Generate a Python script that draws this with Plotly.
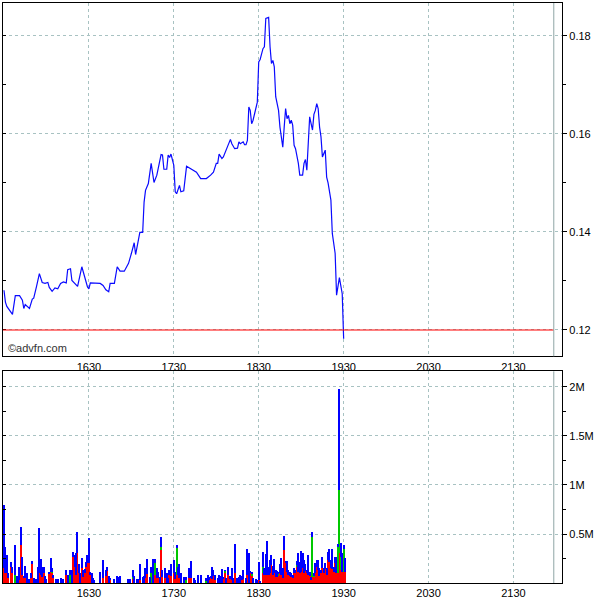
import plotly.graph_objects as go
import pandas as pd

# ---- price (minutes after 15:30, price) ----
price_minute = [0, 1, 2, 4, 6, 8, 11, 13, 14, 15, 18, 20, 21, 23, 25, 27, 29, 31, 32, 34,
                36, 38, 40, 42, 44, 45, 47, 48, 50, 52, 55, 57, 59, 60, 61, 68, 70, 72, 74, 75,
                78, 80, 82, 85, 87, 88, 90, 92, 93, 95, 96, 98, 99, 100, 102, 104, 106, 108, 110, 111,
                112, 113, 115, 116, 117, 118, 120, 121, 122, 124, 125, 127, 129, 131, 136, 139, 143, 146, 148, 150,
                151, 152, 154, 155, 158, 160, 161, 163, 165, 166, 167, 169, 170, 171, 172, 173, 174, 175, 176, 177,
                179, 180, 181, 183, 184, 185, 187, 188, 189, 190, 191, 192, 194, 195, 197, 198, 199, 200, 201, 202,
                203, 204, 205, 206, 208, 209, 211, 212, 213, 214, 216, 217, 218, 219, 220, 221, 222, 223, 224, 225,
                227, 228, 229, 231, 232, 234, 235, 237, 239, 240]
price = [0.1281, 0.1257, 0.1248, 0.1240, 0.1232, 0.1270, 0.1270, 0.1261, 0.1244, 0.1252, 0.1244, 0.1263, 0.1265, 0.1289, 0.1315, 0.1297, 0.1295, 0.1297, 0.1287, 0.1279,
         0.1286, 0.1284, 0.1295, 0.1298, 0.1296, 0.1323, 0.1325, 0.1301, 0.1296, 0.1289, 0.1329, 0.1308, 0.1288, 0.1284, 0.1296, 0.1295, 0.1291, 0.1282, 0.1278, 0.1295,
         0.1295, 0.1329, 0.1320, 0.1320, 0.1332, 0.1336, 0.1356, 0.1378, 0.1354, 0.1383, 0.1399, 0.1399, 0.1461, 0.1485, 0.1499, 0.1540, 0.1501, 0.1516, 0.1540, 0.1558,
         0.1557, 0.1528, 0.1528, 0.1557, 0.1552, 0.1559, 0.1536, 0.1482, 0.1478, 0.1495, 0.1482, 0.1484, 0.1534, 0.1531, 0.1522, 0.1509, 0.1509, 0.1516, 0.1522, 0.1540,
         0.1540, 0.1559, 0.1550, 0.1553, 0.1573, 0.1589, 0.1580, 0.1570, 0.1571, 0.1584, 0.1580, 0.1584, 0.1578, 0.1578, 0.1587, 0.1655, 0.1648, 0.1621, 0.1628, 0.1642,
         0.1665, 0.1747, 0.1752, 0.1774, 0.1778, 0.1836, 0.1838, 0.1778, 0.1744, 0.1750, 0.1737, 0.1676, 0.1648, 0.1614, 0.1573, 0.1614, 0.1652, 0.1631, 0.1638, 0.1621,
         0.1628, 0.1618, 0.1577, 0.1570, 0.1540, 0.1516, 0.1516, 0.1540, 0.1548, 0.1526, 0.1635, 0.1621, 0.1608, 0.1640, 0.1648, 0.1662, 0.1652, 0.1614, 0.1594, 0.1553,
         0.1567, 0.1512, 0.1500, 0.1465, 0.1397, 0.1356, 0.1271, 0.1307, 0.1274, 0.1182]

prev_close = 0.12

# ---- volume (minutes after 15:30; thousands of shares per colour) ----
vol_minute = [0, 1, 2, 3, 5, 6, 8, 9, 10, 11,
              12, 13, 14, 15, 16, 17, 18, 19, 20, 21,
              23, 24, 25, 26, 27, 28, 29, 30, 32, 33,
              34, 35, 37, 38, 40, 41, 42, 44, 45, 47,
              48, 49, 50, 51, 52, 53, 54, 55, 56, 57,
              58, 59, 60, 61, 62, 63, 64, 68, 70, 72,
              73, 74, 75, 78, 80, 81, 82, 88, 89, 91,
              92, 94, 95, 96, 98, 99, 100, 101, 103, 104,
              105, 106, 107, 108, 109, 110, 111, 112, 114, 115,
              116, 117, 118, 120, 121, 122, 123, 124, 125, 127,
              128, 129, 131, 132, 134, 135, 137, 139, 143, 144,
              145, 146, 147, 148, 149, 151, 152, 153, 154, 155,
              156, 157, 158, 160, 161, 162, 163, 165, 166, 167,
              168, 169, 171, 172, 173, 174, 175, 176, 178, 179,
              180, 181, 183, 184, 185, 186, 187, 188, 189, 190,
              191, 192, 193, 194, 195, 196, 197, 198, 199, 200,
              201, 202, 203, 204, 205, 206, 207, 208, 209, 210,
              211, 212, 213, 214, 215, 216, 217, 218, 219, 220,
              221, 222, 223, 224, 225, 226, 227, 228, 229, 230,
              231, 232, 233, 234, 235, 236, 237, 238, 239, 240, 241]
vol_red = [146, 95, 102, 44, 163, 95, 0, 0, 0, 27,
           384, 78, 44, 44, 0, 0, 0, 44, 190, 0,
           0, 0, 95, 78, 61, 95, 0, 0, 95, 112,
           102, 44, 0, 0, 0, 0, 0, 78, 0, 0,
           0, 265, 163, 78, 299, 95, 0, 146, 61, 95,
           163, 197, 204, 78, 0, 0, 0, 0, 44, 68,
           122, 0, 37, 0, 0, 0, 0, 0, 0, 44,
           0, 0, 0, 27, 0, 0, 44, 85, 0, 0,
           0, 95, 78, 44, 44, 0, 340, 61, 44, 0,
           0, 78, 68, 95, 37, 78, 78, 44, 0, 0,
           34, 0, 44, 44, 0, 0, 0, 0, 0, 0,
           27, 44, 34, 68, 27, 0, 0, 0, 0, 44,
           95, 0, 78, 34, 27, 0, 95, 0, 0, 0,
           27, 34, 0, 78, 0, 95, 78, 0, 0, 0,
           27, 0, 95, 78, 78, 78, 78, 95, 180, 78,
           95, 61, 61, 78, 95, 78, 44, 333, 197, 112,
           78, 68, 61, 44, 95, 95, 163, 105, 95, 112,
           146, 95, 122, 95, 78, 68, 27, 54, 61, 95,
           163, 129, 68, 95, 146, 95, 136, 78, 231, 214,
           146, 136, 112, 197, 95, 95, 299, 129, 112, 112, 112]
vol_green = [0, 0, 0, 0, 0, 0, 78, 0, 0, 0,
             0, 0, 0, 0, 0, 0, 0, 0, 0, 0,
             0, 0, 0, 0, 0, 0, 0, 0, 0, 0,
             10, 0, 0, 0, 0, 0, 0, 0, 0, 78,
             0, 0, 0, 0, 0, 0, 0, 0, 0, 0,
             0, 0, 0, 0, 0, 0, 0, 0, 0, 0,
             0, 0, 0, 0, 0, 0, 0, 0, 0, 17,
             0, 0, 0, 0, 0, 0, 0, 0, 0, 95,
             0, 102, 119, 0, 0, 0, 20, 0, 0, 0,
             0, 0, 0, 0, 0, 272, 0, 0, 0, 0,
             0, 27, 0, 0, 0, 0, 0, 0, 27, 0,
             0, 0, 0, 0, 0, 0, 0, 0, 0, 0,
             27, 0, 0, 0, 0, 0, 0, 0, 0, 0,
             0, 0, 0, 0, 0, 0, 10, 0, 0, 0,
             0, 0, 68, 0, 0, 0, 0, 0, 0, 0,
             0, 0, 0, 17, 0, 0, 0, 0, 0, 0,
             0, 0, 0, 0, 0, 0, 17, 0, 0, 0,
             0, 0, 0, 0, 0, 0, 0, 415, 17, 0,
             0, 0, 0, 0, 0, 0, 0, 0, 0, 0,
             0, 0, 0, 0, 0, 279, 646, 136, 0, 228, 0]
vol_blue = [646, 272, 180, 51, 51, 61, 306, 68, 68, 136,
            187, 187, 24, 126, 95, 37, 37, 51, 31, 44,
            37, 163, 466, 163, 95, 61, 68, 37, 14, 139,
            34, 34, 37, 37, 44, 27, 37, 51, 78, 51,
            129, 51, 119, 221, 218, 95, 95, 102, 68, 44,
            51, 85, 248, 34, 95, 44, 27, 105, 187, 61,
            41, 68, 7, 37, 68, 61, 68, 37, 37, 68,
            68, 37, 37, 163, 61, 68, 102, 153, 61, 68,
            238, 41, 41, 102, 68, 61, 102, 68, 102, 95,
            44, 51, 122, 136, 75, 34, 78, 146, 95, 61,
            27, 34, 102, 173, 44, 27, 78, 78, 17, 78,
            34, 24, 129, 61, 51, 44, 78, 68, 136, 17,
            7, 44, 85, 34, 119, 44, 296, 44, 61, 78,
            41, 95, 44, 265, 299, 27, 24, 44, 37, 27,
            187, 20, 146, 68, 214, 347, 78, 136, 102, 92,
            143, 68, 61, 17, 95, 170, 102, 146, 24, 105,
            51, 44, 34, 34, 51, 34, 44, 194, 119, 211,
            153, 136, 68, 34, 204, 44, 34, 51, 17, 102,
            68, 102, 78, 34, 119, 51, 61, 68, 85, 126,
            85, 207, 51, 68, 170, 17, 1027, 136, 187, 44, 136]

x_ticks = ["16:30", "17:30", "18:30", "19:30", "20:30", "21:30"]
vol_tickvals = [500000, 1000000, 1500000, 2000000]
vol_ticktext = ["0.5M", "1M", "1.5M", "2M"]

BASE = pd.Timestamp("2024-01-02 15:30")


def ts(mins):
    return [BASE + pd.Timedelta(minutes=m) for m in mins]


x_start = BASE - pd.Timedelta(minutes=0.7)
x_end = BASE + pd.Timedelta(minutes=394.3)
close_line = BASE + pd.Timedelta(minutes=388.5)
tickvals = [pd.Timestamp("2024-01-02 " + t) for t in x_ticks]

GRID = "#a8c2c2"
FONT = dict(family="Liberation Sans, Arial, sans-serif", size=11, color="#000000")

fig = go.Figure()

fig.add_trace(go.Scatter(x=ts(price_minute), y=price, mode="lines",
                         line=dict(color="#0a0aff", width=1.2),
                         xaxis="x", yaxis="y", hoverinfo="skip"))
# invisible copy to draw inside ticks on the left edge
fig.add_trace(go.Scatter(x=ts(price_minute), y=price, mode="lines",
                         line=dict(color="rgba(0,0,0,0)", width=0),
                         xaxis="x", yaxis="y3", hoverinfo="skip"))

vt = ts(vol_minute)
for arr, col in [(vol_red, "#ff0000"), (vol_green, "#00c800"), (vol_blue, "#0000ff")]:
    fig.add_trace(go.Bar(x=vt, y=[v * 1000 for v in arr], width=50000,
                         marker=dict(color=col, line=dict(width=0)),
                         xaxis="x2", yaxis="y2", hoverinfo="skip"))
fig.add_trace(go.Scatter(x=vt, y=[0] * len(vt), mode="lines",
                         line=dict(color="rgba(0,0,0,0)", width=0),
                         xaxis="x2", yaxis="y4", hoverinfo="skip"))

# plot area: x 3..562.5 px, y 2.7..582.7 px
ydom_top = [1 - (356 - 2.7) / 580, 1]
ydom_bot = [0, 1 - (371 - 2.7) / 580]

xcommon = dict(type="date", range=[x_start, x_end], tickvals=tickvals, tickformat="%H%M",
               showgrid=True, gridcolor=GRID, griddash="dot", gridwidth=1,
               showline=True, linecolor="#000000", linewidth=1.2, mirror=True,
               ticks="", tickfont=FONT, zeroline=False, domain=[0, 1], automargin=False)

fig.update_layout(
    width=600, height=600,
    margin=dict(l=3, r=37.5, t=2.7, b=17.3, pad=0),
    paper_bgcolor="white", plot_bgcolor="white",
    showlegend=False, barmode="stack", bargap=0,
    xaxis=dict(anchor="y", **xcommon),
    xaxis2=dict(anchor="y2", **xcommon),
    yaxis=dict(domain=ydom_top, range=[0.11463, 0.18673], side="right",
               tick0=0.12, dtick=0.02, tickformat=".2f", tickfont=FONT,
               ticks="outside", ticklen=4, tickcolor="#000000",
               showgrid=True, gridcolor=GRID, griddash="dot",
               showline=True, linecolor="#000000", linewidth=1.2, mirror=True,
               zeroline=False, anchor="x", automargin=False,
               minor=dict(dtick=0.01, tick0=0.12, ticks="outside", ticklen=3,
                          tickcolor="#000000", showgrid=False)),
    yaxis3=dict(overlaying="y", side="left", range=[0.11463, 0.18673],
                tick0=0.12, dtick=0.02, showticklabels=False,
                ticks="inside", ticklen=3, tickcolor="#000000", showgrid=False,
                zeroline=False, anchor="x", automargin=False,
                minor=dict(dtick=0.01, tick0=0.12, ticks="inside", ticklen=3,
                           tickcolor="#000000", showgrid=False)),
    yaxis2=dict(domain=ydom_bot, range=[0, 2160000], side="right",
                tickmode="array", tickvals=vol_tickvals, ticktext=vol_ticktext,
                tickfont=FONT, ticks="outside", ticklen=4, tickcolor="#000000",
                showgrid=True, gridcolor=GRID, griddash="dot",
                showline=True, linecolor="#000000", linewidth=1.2, mirror=True,
                zeroline=False, anchor="x2", automargin=False,
                minor=dict(tickmode="array", tickvals=[250000, 750000, 1250000, 1750000],
                           ticks="outside", ticklen=3, tickcolor="#000000", showgrid=False)),
    yaxis4=dict(overlaying="y2", side="left", range=[0, 2160000],
                tickmode="array", tickvals=vol_tickvals, showticklabels=False,
                ticks="inside", ticklen=3, tickcolor="#000000", showgrid=False,
                zeroline=False, anchor="x2", automargin=False,
                minor=dict(tickmode="array", tickvals=[250000, 750000, 1250000, 1750000],
                           ticks="inside", ticklen=3, tickcolor="#000000", showgrid=False)),
)

fig.add_shape(type="line", xref="x", yref="y", x0=x_start, x1=close_line,
              y0=prev_close, y1=prev_close, line=dict(color="#ff0000", width=1.2))
fig.add_shape(type="line", xref="x", yref="y domain", x0=close_line, x1=close_line,
              y0=0, y1=1, line=dict(color="#8fa5a5", width=1))
fig.add_shape(type="line", xref="x2", yref="y2 domain", x0=close_line, x1=close_line,
              y0=0, y1=1, line=dict(color="#8fa5a5", width=1))

fig.add_annotation(text="©advfn.com", xref="paper", yref="paper",
                   x=0.005, y=1 - (348 - 2.7) / 580, xanchor="left", yanchor="middle",
                   showarrow=False, font=dict(family="Liberation Sans, Arial, sans-serif",
                                              size=11, color="#333333"))

fig.write_html("out.html", config={"displayModeBar": False},
               post_script="document.body.style.margin='0';document.body.style.padding='0';")
